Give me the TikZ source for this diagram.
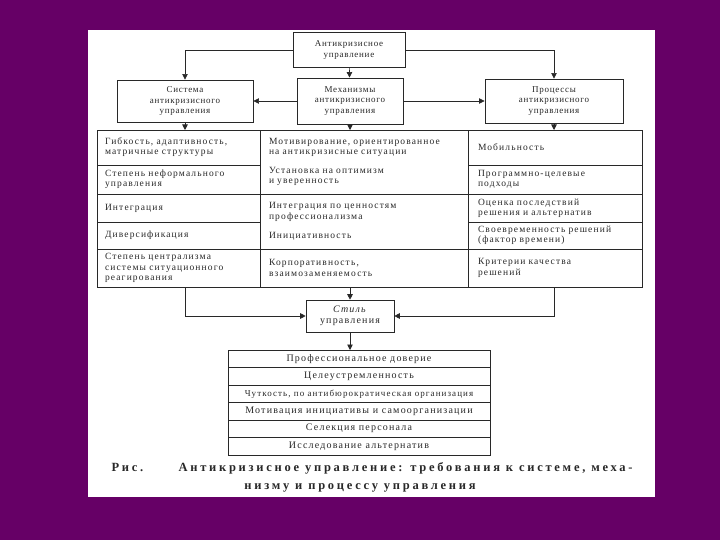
\documentclass[tikz,border=0pt]{standalone}
\usepackage{fontspec}
\setmainfont{Liberation Serif}
\newfontfamily\cellfont[LetterSpace=12]{Liberation Serif}
\newfontfamily\headfont[LetterSpace=8]{Liberation Serif}
\newfontfamily\capfont[LetterSpace=22]{Liberation Serif}
\usepackage{tikz}
\usetikzlibrary{arrows.meta, positioning}
\definecolor{bgpurple}{RGB}{102,0,102}
\definecolor{inkgray}{RGB}{40,40,40}

\begin{document}
\begin{tikzpicture}[
    x=1pt, y=-1pt,
    box/.style={rectangle, draw=inkgray, line width=0.9pt, align=center, inner sep=2pt, text=inkgray, font=\headfont\fontsize{9}{10.4}\selectfont},
    cell/.style={rectangle, draw=inkgray, line width=0.6pt, outer sep=0pt, inner ysep=2pt, align=left, anchor=north west, text=inkgray, font=\cellfont\fontsize{9.5}{10.2}\selectfont},
    colA/.style={cell, minimum width=163pt, text width=147pt, inner xsep=8pt},
    colB/.style={cell, minimum width=208pt, text width=190pt, inner xsep=9pt},
    colC/.style={cell, minimum width=174pt, text width=154pt, inner xsep=10pt},
    listrow/.style={rectangle, draw=inkgray, line width=0.6pt, outer sep=0pt, minimum width=262pt, minimum height=17.5pt, inner sep=1pt, text=inkgray, font=\cellfont\fontsize{10}{11}\selectfont},
    caption/.style={anchor=base west, text=inkgray, font=\capfont\bfseries\fontsize{12.5}{14}\selectfont},
    arrow/.style={-{Triangle[length=5.5pt, width=5.5pt]}, draw=inkgray, line width=0.7pt}
]

% Page
\fill[bgpurple] (0,0) rectangle (720,540);
\fill[white] (88,30) rectangle (655,497);

% Top level
\node[box, minimum width=112pt, minimum height=35pt] (top) at (349,50) {Антикризисное\\управление};

% Second level
\node[box, minimum width=136pt, minimum height=42pt] (sys) at (185,101) {Система\\антикризисного\\управления};
\node[box, minimum width=106pt, minimum height=46pt] (mech) at (350,101) {Механизмы\\антикризисного\\управления};
\node[box, minimum width=138pt, minimum height=44pt] (proc) at (554,101) {Процессы\\антикризисного\\управления};

% Requirements to the system
\node[colA, minimum height=35pt] (c11) at (97,130) {Гибкость, адаптивность,\\ матричные структуры};
\node[colA, minimum height=29pt, below=0pt of c11] (c12) {Степень неформального\\ управления};
\node[colA, minimum height=28pt, below=0pt of c12] (c13) {Интеграция};
\node[colA, minimum height=27pt, below=0pt of c13] (c14) {Диверсификация};
\node[colA, minimum height=38pt, below=0pt of c14] (c15) {Степень централизма\\ системы ситуационного\\ реагирования};

% Requirements to the mechanism
\node[colB, minimum height=64pt] (c21) at (260,130) {Мотивирование, ориентированное\\ на антикризисные ситуации\\[9pt] Установка на оптимизм\\ и уверенность};
\node[colB, minimum height=55pt, below=0pt of c21] (c23) {Интеграция по ценностям\\ профессионализма\\[9pt] Инициативность};
\node[colB, minimum height=38pt, below=0pt of c23] (c25) {Корпоративность,\\ взаимозаменяемость};

% Requirements to the process
\node[colC, minimum height=35pt] (c31) at (468,130) {Мобильность};
\node[colC, minimum height=29pt, below=0pt of c31] (c32) {Программно-целевые\\ подходы};
\node[colC, minimum height=28pt, below=0pt of c32] (c33) {Оценка последствий\\ решения и альтернатив};
\node[colC, minimum height=27pt, below=0pt of c33] (c34) {Своевременность решений\\ (фактор времени)};
\node[colC, minimum height=38pt, below=0pt of c34] (c35) {Критерии качества\\ решений};

% Style
\node[box, line width=0.6pt, minimum width=88pt, minimum height=32pt, font=\cellfont\fontsize{10}{11}\selectfont] (stil) at (350,316) {\textit{Стиль}\\управления};

% Style features
\node[listrow, anchor=north] (l1) at (359,350) {Профессиональное доверие};
\node[listrow, below=0pt of l1] (l2) {Целеустремленность};
\node[listrow, below=0pt of l2, font=\cellfont\fontsize{9}{10}\selectfont] (l3) {Чуткость, по антибюрократическая организация};
\node[listrow, below=0pt of l3] (l4) {Мотивация инициативы и самоорганизации};
\node[listrow, below=0pt of l4] (l5) {Селекция персонала};
\node[listrow, below=0pt of l5] (l6) {Исследование альтернатив};

% Caption
\node[caption] (fig) at (108,471) {Рис.};
\node[caption] (cap1) at (175,471) {Антикризисное управление: требования к системе, меха-};
\node[caption, anchor=base] (cap2) at (360,489) {низму и процессу управления};

% Arrows
\draw[arrow] (top.west) -| (sys.north);
\draw[arrow] (top.east) -| (proc.north);
\draw[arrow] (top) -- (mech);
\draw[arrow] (mech) -- (sys);
\draw[arrow] (mech) -- (proc);
\draw[arrow] (sys) -- (sys |- c11.north);
\draw[arrow] (mech) -- (mech |- c21.north);
\draw[arrow] (proc) -- (proc |- c31.north);
\draw[arrow] (sys |- c15.south) |- (stil.west);
\draw[arrow] (mech |- c25.south) -- (stil);
\draw[arrow] (proc |- c35.south) |- (stil.east);
\draw[arrow] (stil) -- (stil |- l1.north);

\end{tikzpicture}
\end{document}
